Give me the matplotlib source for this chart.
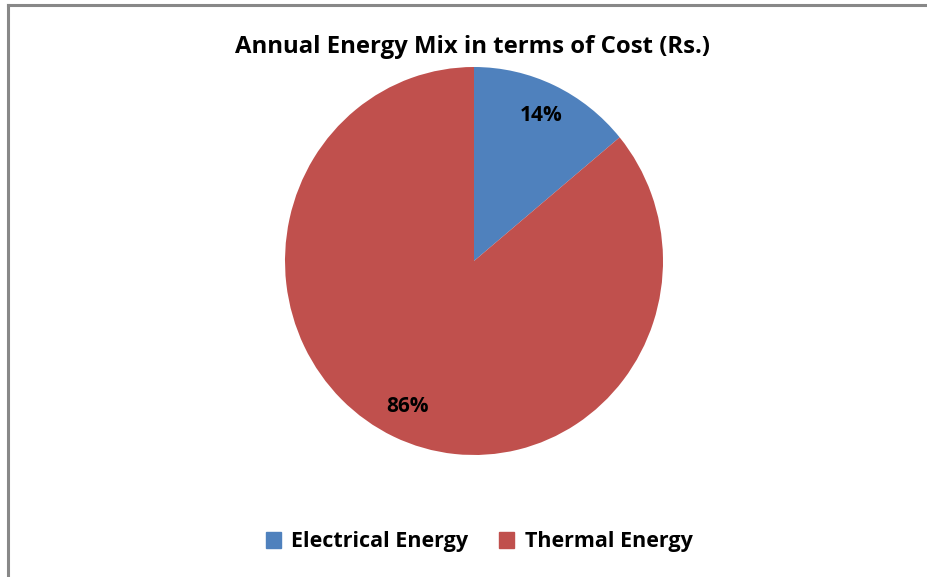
import matplotlib
matplotlib.use("Agg")
import matplotlib.pyplot as plt
from matplotlib.lines import Line2D

plt.rcParams['font.family'] = ['Open Sans', 'DejaVu Sans']

etiquetas = ['Electrical Energy', 'Thermal Energy']
valores = [14, 86]
colores = ['#4F81BD', '#C0504D']

fig = plt.figure(figsize=(9.28, 5.77), dpi=100)

# marco gris (solo izquierda y arriba, como en el recorte original)
fig.add_artist(Line2D([8.5/928, 8.5/928], [0, 1 - 5/577], color='#888888', lw=2.2))
fig.add_artist(Line2D([8.5/928, 1], [1 - 5/577, 1 - 5/577], color='#888888', lw=2.2))

ax = fig.add_axes([285/928, 122/577, 378/928, 388/577])
ax.pie(valores, colors=colores, startangle=90, counterclock=False,
       autopct='%1.0f%%', pctdistance=0.83,
       textprops={'fontsize': 15, 'fontweight': 'bold', 'color': 'black'})
ax.set_xlim(-1, 1)
ax.set_ylim(-1, 1)
ax.set_aspect('auto')

fig.text(473/928, 1 - 47/577, 'Annual Energy Mix in terms of Cost (Rs.)',
         ha='center', va='center', fontsize=17.2, fontweight='bold')

handles = [plt.Rectangle((0, 0), 1, 1, color=c) for c in colores]
fig.legend(handles, etiquetas, loc='center', bbox_to_anchor=(479/928, 1 - 542/577),
           ncol=2, frameon=False, prop={'size': 15.5, 'weight': 'bold'},
           handlelength=0.7, handleheight=0.7, handletextpad=0.5, columnspacing=1.4)

fig.savefig('out.png', dpi=100)
